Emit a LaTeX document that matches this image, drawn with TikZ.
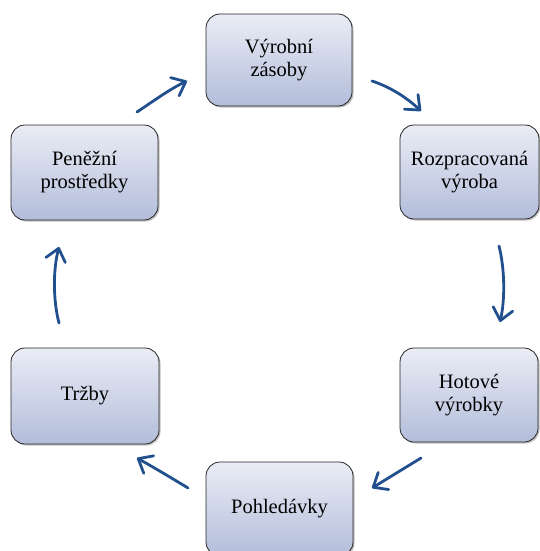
\documentclass[tikz,border=0pt]{standalone}
\usepackage{fontspec}
\setmainfont{Liberation Serif}
\usetikzlibrary{arrows.meta,shadows}
\definecolor{boxtop}{HTML}{EAEDF6}
\definecolor{boxbot}{HTML}{B3BDDA}
\definecolor{arrowblue}{HTML}{22508E}
\tikzset{
  stage/.style={rectangle, rounded corners=14pt, draw=black!85, line width=0.8pt,
    top color=boxtop, bottom color=boxbot, align=center,
    font=\fontsize{20.5pt}{23pt}\selectfont,
    drop shadow={shadow xshift=1.5pt, shadow yshift=-1.5pt, opacity=0.25, fill=black}},
  flow/.style={draw=arrowblue, line width=2.8pt, line cap=round,
    -{Straight Barb[length=12pt,width=20pt,line cap=round,round]}}
}
\begin{document}
\begin{tikzpicture}[x=1pt,y=-1pt]
\useasboundingbox (0,0) rectangle (540,551);
\node[stage, minimum width=146pt, minimum height=92pt] (vz) at (279,60) {Výrobní\\zásoby};
\node[stage, minimum width=139pt, minimum height=94pt] (rv) at (469.5,172) {Rozpracovaná\\výroba};
\node[stage, minimum width=138pt, minimum height=94pt] (hv) at (469,395) {Hotové\\výrobky};
\node[stage, minimum width=147pt, minimum height=94pt] (po) at (279.5,509) {Pohledávky};
\node[stage, minimum width=148pt, minimum height=96pt] (tr) at (85,396) {Tržby};
\node[stage, minimum width=147pt, minimum height=95pt] (pp) at (84.5,172.5) {Peněžní\\prostředky};

\coordinate (a1s) at (137,112); \coordinate (a1e) at (187,81);
\coordinate (a2s) at (372,81);  \coordinate (a2e) at (421,111);
\coordinate (a3s) at (499,246); \coordinate (a3e) at (500,322);
\coordinate (a4s) at (421,458); \coordinate (a4e) at (372,488);
\coordinate (a5s) at (188,488); \coordinate (a5e) at (137,458);
\coordinate (a6s) at (59,323);  \coordinate (a6e) at (59,247);

\draw[flow] (a1s) .. controls (155,100) and (170,89) .. (a1e);
\draw[flow] (a2s) .. controls (390,87) and (406,97) .. (a2e);
\draw[flow] (a3s) .. controls (505,270) and (505,300) .. (a3e);
\draw[flow] (a4s) -- (a4e);
\draw[flow] (a5s) .. controls (170,477) and (153,467) .. (a5e);
\draw[flow] (a6s) .. controls (53,300) and (53,270) .. (a6e);
\end{tikzpicture}
\end{document}
